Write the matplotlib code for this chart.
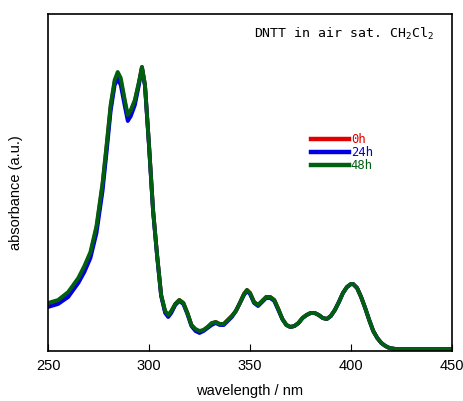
import matplotlib
matplotlib.use("Agg")
import matplotlib.pyplot as plt

# wavelength grid (nm) and absorbance (arbitrary units)
wavelength = [250, 255, 260, 265, 268, 271, 274, 277, 279, 281, 283, 284.5, 286, 288,
              289.5, 291, 293, 295, 296.5, 298, 300, 302, 304, 306, 308, 309.5, 311,
              313, 315, 317, 319, 321, 323, 325, 327, 329, 331, 333, 335, 337, 339,
              341, 343, 345, 347, 348.5, 350, 352, 354, 356, 358, 360, 362, 364, 366,
              368, 370, 372, 374, 376, 378, 380, 382, 384, 386, 388, 390, 392, 394,
              396, 398, 400, 401, 403, 405, 407, 409, 411, 413, 415, 417, 419, 422,
              425, 450]

abs_0h = [45, 48, 55, 69, 81, 95, 121, 164, 202, 242, 267, 274, 268, 247,
          231, 237, 248, 266, 282, 264, 204, 139, 94, 54, 37, 33, 37,
          45, 49, 46, 36, 24, 19, 17, 19, 22, 25, 27, 25, 25, 29,
          33, 38, 46, 55, 59, 56, 47, 44, 48, 52, 52, 49, 40, 30,
          24, 22, 23, 26, 31, 34, 36, 36, 34, 31, 30, 33, 39, 47,
          56, 62, 65, 65, 61, 52, 41, 29, 18, 11, 6, 3, 1, 0,
          0, 0]

abs_24h = [42, 45, 52, 66, 77, 91, 116, 158, 197, 238, 264, 270, 264, 243,
           228, 233, 244, 264, 281, 263, 203, 138, 93, 53, 36, 32, 36,
           44, 48, 45, 35, 23, 18, 16, 18, 21, 24, 26, 24, 24, 28,
           32, 38, 46, 54, 58, 55, 46, 43, 47, 51, 51, 48, 39, 30,
           24, 22, 23, 26, 31, 34, 36, 36, 34, 31, 30, 33, 39, 47,
           56, 62, 65, 65, 61, 52, 41, 29, 18, 11, 6, 3, 1, 0,
           0, 0]

abs_48h = [46, 49, 57, 71, 83, 97, 123, 166, 204, 244, 269, 277, 271, 249,
           234, 239, 249, 267, 282, 264, 204, 139, 94, 54, 38, 34, 38,
           45, 49, 46, 36, 24, 20, 18, 19, 22, 26, 27, 25, 25, 29,
           33, 38, 46, 55, 59, 56, 47, 44, 48, 52, 52, 49, 40, 30,
           24, 22, 23, 26, 31, 34, 36, 36, 34, 31, 30, 33, 39, 47,
           56, 62, 65, 65, 61, 52, 41, 29, 18, 11, 6, 3, 1, 0,
           0, 0]

labels = ["0h", "24h", "48h"]
colors = ["#e00000", "#0000e0", "#006010"]

fig = plt.figure(figsize=(4.63, 4.01), dpi=100)
ax = fig.add_axes([0.1037, 0.1247, 0.8726, 0.8404])

for y, lab, col in zip([abs_0h, abs_24h, abs_48h], labels, colors):
    ax.plot(wavelength, y, color=col, lw=2.8, label=lab)

ax.set_xlim(250, 450)
ax.set_ylim(-2, 335)
ax.set_xticks([250, 300, 350, 400, 450])
ax.set_yticks([])
ax.tick_params(axis="x", direction="in", length=5, labelsize=10.5, pad=6)
for lbl in ax.get_xticklabels():
    lbl.set_family("Liberation Sans")
for sp in ax.spines.values():
    sp.set_linewidth(1.2)

ax.set_xlabel("wavelength / nm", family="Liberation Sans", fontsize=10.5, labelpad=8)
ax.set_ylabel("absorbance (a.u.)", family="Liberation Sans", fontsize=10.5)
ax.yaxis.set_label_coords(-0.062, 0.47)

plt.rcParams["mathtext.fontset"] = "custom"
plt.rcParams["mathtext.rm"] = "DejaVu Sans Mono"
plt.rcParams["mathtext.it"] = "DejaVu Sans Mono"
ax.text(0.511, 0.93, r"DNTT in air sat. CH$_\mathrm{2}$Cl$_\mathrm{2}$",
        transform=ax.transAxes, family="DejaVu Sans Mono", fontsize=9.5,
        ha="left", va="baseline")

leg = ax.legend(loc="upper left", bbox_to_anchor=(0.63, 0.672), frameon=False,
                handlelength=3.1, handletextpad=0.15, labelspacing=0.0,
                labelcolor="linecolor", borderaxespad=0.3,
                prop={"family": "DejaVu Sans Mono", "size": 8.8})
for h in leg.get_lines():
    h.set_linewidth(3.2)

fig.savefig("out.png", dpi=100)
